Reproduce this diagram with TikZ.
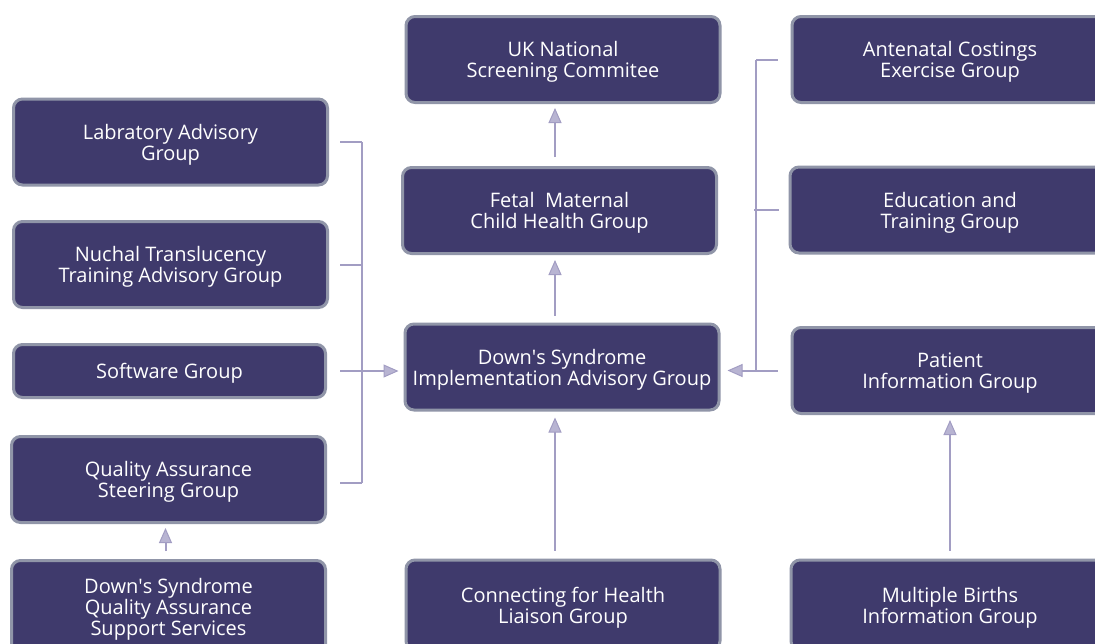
\documentclass[tikz,border=0pt]{standalone}
\usepackage{fontspec}
\setmainfont{Open Sans}
\usetikzlibrary{arrows.meta,calc}
\definecolor{boxfill}{HTML}{3F3A6C}
\definecolor{boxrim}{HTML}{9095A8}
\definecolor{linkcol}{HTML}{A29DC3}
\definecolor{tipfill}{HTML}{B8B4D2}
\tikzset{
  grp/.style={draw=boxrim, line width=3pt, fill=boxfill, rounded corners=9pt,
    text=white, align=center, minimum width=314pt, minimum height=86pt,
    inner sep=0pt, text depth=0pt, font=\fontsize{20}{21}\selectfont},
  link/.style={draw=linkcol, line width=2pt},
  arr/.style={link, -{Triangle[length=15pt,width=13pt,fill=tipfill,line width=1pt]}},
}
\begin{document}
\begin{tikzpicture}[x=1pt,y=-1pt]
\useasboundingbox (0,0) rectangle (1095,643);
\clip (0,0) rectangle (1095,643);
\fill[white] (0,0) rectangle (1095,643);

% centre column
\node[grp] (uk)  at (563,59.5)  {UK National\\Screening Commitee};
\node[grp] (fmc) at (559.5,210.5) {Fetal\ \ Maternal\\Child Health Group};
\node[grp] (dsi) at (562,367)   {Down\textquotesingle s Syndrome\\Implementation Advisory Group};
\node[grp, minimum height=90pt] (cfh) at (563,605) {Connecting for Health\\Liaison Group};

% left column
\node[grp] (lab) at (170.5,142)   {Labratory Advisory\\Group};
\node[grp] (nuc) at (170.5,264.5) {Nuchal Translucency\\Training Advisory Group};
\node[grp, minimum width=312pt, minimum height=53pt] (sw) at (169.5,371) {Software Group};
\node[grp] (qas) at (168.5,479.5) {Quality Assurance\\Steering Group};
\node[grp, minimum height=93pt] (dsqa) at (168.5,607) {Down\textquotesingle s Syndrome\\Quality Assurance\\Support Services};

% right column
\node[grp, minimum width=316pt] (acg) at (950,59.5)  {Antenatal Costings\\Exercise Group};
\node[grp, minimum width=320pt] (edu) at (950,210)   {Education and\\Training Group};
\node[grp, minimum width=316pt] (pig) at (950,370.5) {Patient\\Information Group};
\node[grp, minimum width=318pt, minimum height=90pt] (mbi) at (950,605) {Multiple Births\\Information Group};

% vertical arrows in the centre column
\coordinate (cx) at ($(dsi.center)+(-7,0)$);
\draw[arr, shorten <=9pt, shorten >=4pt] (fmc.north -| cx) -- (uk.south -| cx);
\draw[arr, shorten <=7pt, shorten >=5pt] (dsi.north -| cx) -- (fmc.south -| cx);
\draw[arr, shorten <=8pt, shorten >=6pt] (cfh.north -| cx) -- (dsi.south -| cx);

% vertical arrows on the sides
\draw[arr, shorten <=8pt, shorten >=5pt] (mbi.north) -- (pig.south);
\coordinate (qx) at ($(qas.center)+(-3,0)$);
\draw[arr, shorten <=8pt, shorten >=4pt] (dsqa.north -| qx) -- (qas.south -| qx);

% left bracket
\draw[link] ($(lab.east)+(11,0)$) -- ++(22,0) coordinate (lt);
\draw[link] ($(nuc.east)+(11,0)$) -- ++(22,0);
\draw[link] ($(qas.east)+(13,3)$) -- ++(22,0) coordinate (lb);
\draw[link] (lt) -- (lb);
\draw[arr, shorten <=13pt, shorten >=5pt] (sw.east) -- (sw.east -| dsi.west);

% right bracket
\draw[link] ($(acg.west)+(-13,0)$) -- ++(-22,0) coordinate (rt);
\draw[link] ($(edu.west)+(-10,0)$) -- ++(-25,0);
\coordinate (rb) at (rt |- pig.west);
\draw[link] (rt) -- (rb);
\draw[arr, shorten <=13pt, shorten >=7pt] (pig.west) -- (pig.west -| dsi.east);
\end{tikzpicture}
\end{document}
